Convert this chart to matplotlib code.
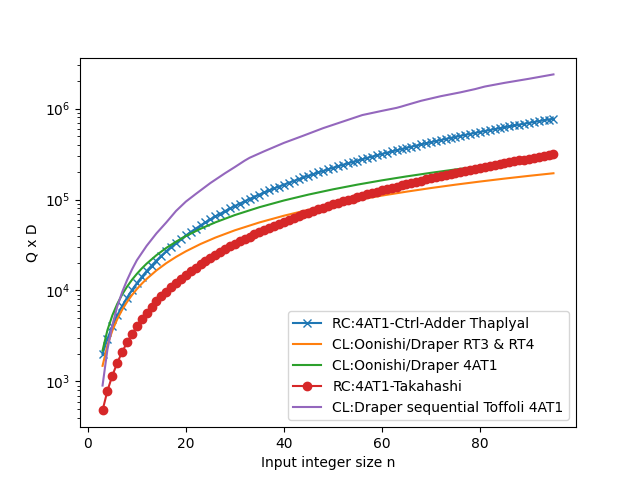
import matplotlib
matplotlib.use("Agg")
import matplotlib.pyplot as plt

# input sizes (markers at every integer n)
n_vals = list(range(3, 96))

thaplyal = [
    2000, 2940, 4050, 5320, 6750, 8350, 10110, 12030, 14120, 16380,
    18790, 21370, 24120, 27030, 30100, 33340, 36740, 40300,
    44030, 47930, 51980, 56200, 60590, 65140, 69850, 74730, 79770, 84970,
    90340, 95880, 101600, 107400, 113500, 119600, 126000, 132500, 139200, 146000,
    153100, 160200, 167600, 175100, 182700, 190600, 198600, 206700, 215000, 223500,
    232200, 241000, 250000, 259100, 268400, 277900, 287500, 297300, 307300, 317400,
    327700, 338100, 348700, 359500, 370500, 381600, 392900, 404300, 415900, 427700,
    439600, 451700, 463900, 476400, 488900, 501700, 514600, 527700, 540900, 554300,
    567900, 581600, 595500, 609600, 623800, 638200, 652800, 667500, 682300, 697400,
    712600, 728000, 743500, 759200, 775100,
]

takahashi = [
    480, 790, 1160, 1600, 2110, 2680, 3330, 4040, 4820, 5670,
    6580, 7570, 8620, 9740, 10930, 12180, 13510, 14900,
    16360, 17890, 19480, 21150, 22880, 24680, 26550, 28480, 30490, 32560,
    34700, 36910, 39180, 41530, 43940, 46420, 48970, 51580, 54270, 57020,
    59840, 62730, 65680, 68710, 71800, 74960, 78190, 81480, 84850, 88280,
    91780, 95350, 98980, 102700, 106500, 110300, 114200, 118200, 122200, 126300,
    130500, 134800, 139100, 143500, 147900, 152400, 157000, 161700, 166400, 171200,
    176100, 181000, 186000, 191000, 196200, 201400, 206600, 212000, 217400, 222900,
    228400, 234000, 239700, 245400, 251200, 257100, 263100, 269100, 275200, 281300,
    287500, 293800, 300200, 306600, 313100,
]

# smooth classical curves
n_cl = [3, 4, 5, 6, 7, 8, 9, 10, 11, 12, 14, 16, 18, 20, 23, 26, 30, 35, 40,
        45, 50, 55, 60, 65, 70, 75, 80, 85, 90, 95]
draper_rt = [1484, 2496, 3622, 4839, 6131, 7488, 8901, 10360, 11870, 13420,
             16630, 19970, 23420, 26970, 32460, 38130, 45930, 56010, 66420,
             77110, 88040, 99210, 110600, 122100, 133900, 145800, 157800,
             170000, 182300, 194700]
draper_4at1 = [2183, 3672, 5329, 7119, 9020, 11020, 13100, 15250, 17470, 19750,
               24470, 29380, 34450, 39680, 47760, 56090, 67570, 82400, 97710,
               113400, 129500, 146000, 162700, 179700, 196900, 214400, 232100,
               250100, 268200, 286500]

# sequential Toffoli curve has small kinks
n_seq = [3, 4, 5, 6, 7, 8, 9, 10, 12, 14, 16, 18, 20, 22, 25, 28, 30, 32, 33,
         36, 40, 44, 48, 52, 56, 60, 63, 64, 65, 68, 72, 76, 79, 81, 85, 90, 95]
draper_seq = [900, 2250, 4150, 6660, 9600, 13000, 17000, 21500, 31000, 42500,
              56000, 75000, 95000, 115000, 152000, 195000, 228000, 268000,
              288000, 340000, 420000, 505000, 610000, 720000, 850000, 945000,
              1020000, 1055000, 1095000, 1220000, 1370000, 1510000, 1640000,
              1750000, 1920000, 2130000, 2380000]

plt.figure(figsize=(6.4, 4.8), dpi=100)
plt.plot(n_vals, thaplyal, marker="x", label="RC:4AT1-Ctrl-Adder Thaplyal")
plt.plot(n_cl, draper_rt, label="CL:Oonishi/Draper RT3 & RT4")
plt.plot(n_cl, draper_4at1, label="CL:Oonishi/Draper 4AT1")
plt.plot(n_vals, takahashi, marker="o", label="RC:4AT1-Takahashi")
plt.plot(n_seq, draper_seq, label="CL:Draper sequential Toffoli 4AT1")

plt.yscale("log")
plt.xlabel("Input integer size n")
plt.ylabel("Q x D")
plt.legend(loc="lower right")
plt.savefig("out.png", dpi=100)
